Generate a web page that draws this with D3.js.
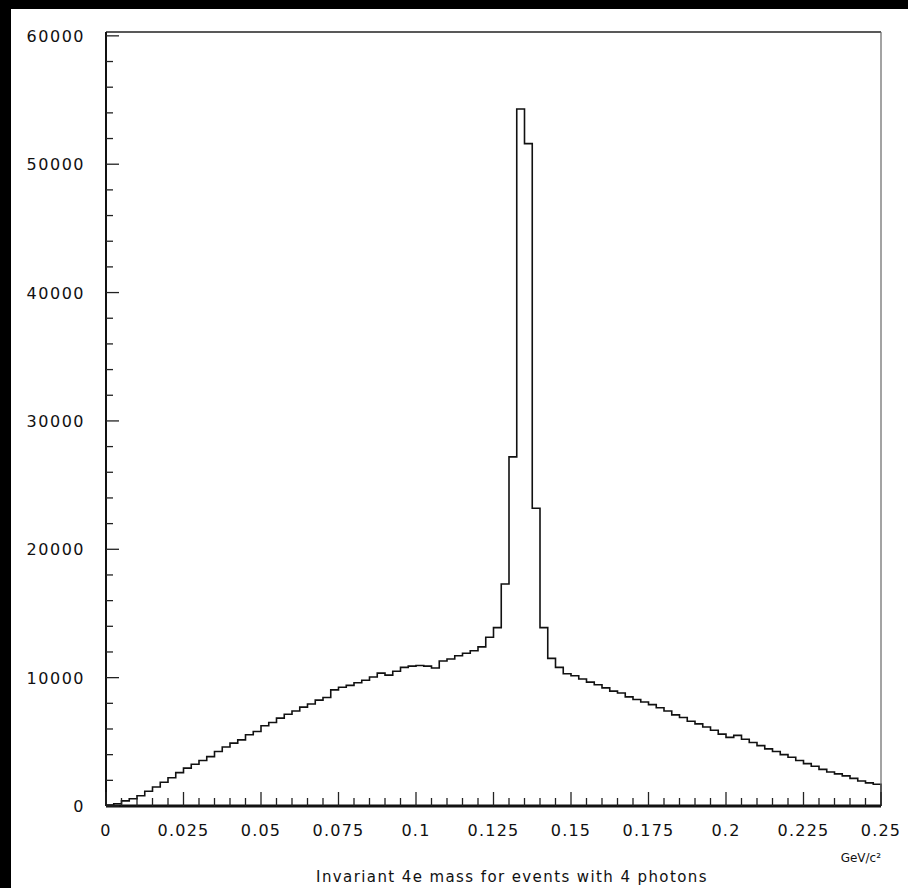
<!DOCTYPE html>
<html lang="en">
<head>
    <meta charset="utf-8">
    <title>Invariant 4e mass</title>
    <script src="https://d3js.org/d3.v7.min.js"></script>
    <style>
        html, body { margin: 0; padding: 0; background: #000; }
        svg { display: block; }
        text { font-family: "DejaVu Sans", sans-serif; fill: #111; }
    </style>
</head>
<body>
    <svg width="908" height="888"></svg>

    <script>
        // histogram: 100 bins from 0 to 0.25 GeV/c^2
        var binLow = 0, binHigh = 0.25, nBins = 100;
        var counts = [
            80, 180, 400, 560, 800, 1150, 1480, 1850, 2200, 2600,
            2950, 3250, 3550, 3850, 4250, 4600, 4900, 5150, 5550, 5800,
            6250, 6500, 6850, 7150, 7400, 7700, 7950, 8250, 8450, 9050,
            9250, 9400, 9600, 9800, 10050, 10350, 10200, 10500, 10800, 10900,
            10950, 10900, 10750, 11300, 11450, 11700, 11900, 12100, 12400, 13150,
            13900, 17300, 27200, 54300, 51600, 23200, 13900, 11500, 10800, 10300,
            10150, 9900, 9650, 9450, 9200, 8950, 8800, 8500, 8300, 8100,
            7900, 7650, 7400, 7100, 6900, 6600, 6400, 6150, 5900, 5600,
            5350, 5500, 5200, 4950, 4700, 4450, 4250, 4000, 3800, 3550,
            3300, 3100, 2850, 2650, 2500, 2350, 2150, 1950, 1800, 1700
        ];
        var xTicks = [0, 0.025, 0.05, 0.075, 0.1, 0.125, 0.15, 0.175, 0.2, 0.225, 0.25];
        var yTicks = [0, 10000, 20000, 30000, 40000, 50000, 60000];
        var xTitle = "GeV/c\u00b2";
        var caption = "Invariant 4e mass for events with 4 photons";

        var svg = d3.select("svg");

        // white page with black margin top/left
        svg.append("rect").attr("x", 0).attr("y", 0).attr("width", 908).attr("height", 888).attr("fill", "#000");
        svg.append("rect").attr("x", 11).attr("y", 9).attr("width", 897).attr("height", 879).attr("fill", "#fff");

        var pLeft = 106, pRight = 881, pTop = 32, pBottom = 806;

        var x = d3.scaleLinear().domain([binLow, binHigh]).range([pLeft, pRight]);
        var y = d3.scaleLinear().domain([0, 60300]).range([pBottom, pTop]);

        // histogram outline
        var binW = (binHigh - binLow) / nBins;
        var pts = counts.map(function(c, i) { return [binLow + i * binW, c]; });
        pts.unshift([binLow, 0]);
        pts.push([binHigh, counts[counts.length - 1]]);
        pts.push([binHigh, 0]);

        var line = d3.line()
            .x(function(d) { return x(d[0]); })
            .y(function(d) { return y(d[1]); })
            .curve(d3.curveStepAfter);

        svg.append("path")
            .datum(pts)
            .attr("d", line)
            .attr("fill", "none")
            .attr("stroke", "#111")
            .attr("stroke-width", 1.6);

        // frame
        svg.append("line").attr("x1", pLeft).attr("x2", pRight).attr("y1", pTop).attr("y2", pTop)
            .attr("stroke", "#222").attr("stroke-width", 1.5);
        svg.append("line").attr("x1", pRight).attr("x2", pRight).attr("y1", pTop).attr("y2", pBottom)
            .attr("stroke", "#666").attr("stroke-width", 1.2);
        svg.append("line").attr("x1", pLeft).attr("x2", pLeft).attr("y1", pTop).attr("y2", pBottom)
            .attr("stroke", "#111").attr("stroke-width", 2);
        svg.append("line").attr("x1", pLeft).attr("x2", pRight).attr("y1", pBottom).attr("y2", pBottom)
            .attr("stroke", "#111").attr("stroke-width", 3);

        // y ticks (inside, pointing right)
        var yMinor = d3.range(0, 60001, 2000);
        svg.append("g").selectAll("line")
            .data(yMinor)
            .enter().append("line")
            .attr("x1", pLeft)
            .attr("x2", function(d) { return pLeft + (d % 10000 === 0 ? 13 : 7); })
            .attr("y1", function(d) { return y(d); })
            .attr("y2", function(d) { return y(d); })
            .attr("stroke", "#222")
            .attr("stroke-width", 1.3);

        svg.append("g").selectAll("text")
            .data(yTicks)
            .enter().append("text")
            .attr("x", 85)
            .attr("y", function(d) { return y(d) + 6; })
            .attr("text-anchor", "end")
            .style("font-size", "16px")
            .style("letter-spacing", "1.5px")
            .text(function(d) { return d; });

        // x ticks (inside, pointing up)
        var xMinor = d3.range(0, 51).map(function(i) { return i * 0.005; });
        svg.append("g").selectAll("line")
            .data(xMinor)
            .enter().append("line")
            .attr("x1", function(d) { return x(d); })
            .attr("x2", function(d) { return x(d); })
            .attr("y1", pBottom)
            .attr("y2", function(d, i) { return pBottom - (i % 5 === 0 ? 14 : 8); })
            .attr("stroke", "#222")
            .attr("stroke-width", 1.3);

        svg.append("g").selectAll("text")
            .data(xTicks)
            .enter().append("text")
            .attr("x", function(d) { return x(d); })
            .attr("y", 836)
            .attr("text-anchor", "middle")
            .style("font-size", "16px")
            .style("letter-spacing", "1.2px")
            .text(function(d) { return d; });

        svg.append("text")
            .attr("x", pRight)
            .attr("y", 862)
            .attr("text-anchor", "end")
            .style("font-size", "12px")
            .text(xTitle);

        svg.append("text")
            .attr("x", 512)
            .attr("y", 882)
            .attr("text-anchor", "middle")
            .style("font-size", "15px")
            .style("letter-spacing", "1.4px")
            .text(caption);
    </script>
</body>
</html>
